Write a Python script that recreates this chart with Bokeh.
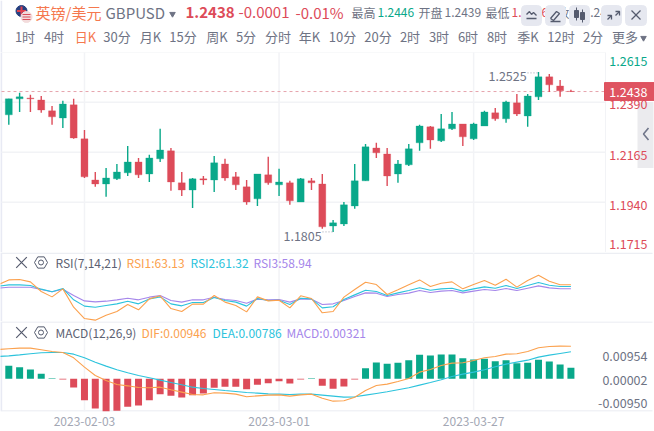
from bokeh.plotting import figure
from bokeh.layouts import column
from bokeh.models import Range1d, FixedTicker
from bokeh.core.properties import value
from bokeh.embed import file_html
from bokeh.resources import INLINE

opens = [1.2333,1.2405,1.2409,1.2400,1.2351,1.2319,1.2378,1.2225,1.2040,1.2022,1.2045,1.2072,1.2121,1.2067,1.2135,1.2171,1.2027,1.1995,1.2045,1.2040,
         1.2112,1.2054,1.2009,1.1955,1.2063,1.2018,1.2027,1.1941,1.2036,1.2022,1.1833,1.1842,1.1923,1.2036,1.2184,1.2157,1.2067,1.2108,1.2207,1.2279,
         1.2216,1.2270,1.2292,1.2225,1.2283,1.2342,1.2315,1.2387,1.2328,1.2414,1.2504,1.2463,1.2439]
highs = [1.2405,1.2432,1.2423,1.2418,1.2373,1.2396,1.2405,1.2265,1.2076,1.2094,1.2112,1.2193,1.2139,1.2153,1.2270,1.2184,1.2076,1.2049,1.2058,1.2148,
         1.2135,1.2076,1.2040,1.2067,1.2144,1.2090,1.2036,1.2049,1.2049,1.2067,1.1860,1.1941,1.2112,1.2202,1.2207,1.2184,1.2130,1.2202,1.2288,1.2283,
         1.2337,1.2346,1.2292,1.2297,1.2351,1.2364,1.2396,1.2427,1.2427,1.2526,1.2517,1.2490,1.2446]
lows = [1.2288,1.2346,1.2346,1.2342,1.2288,1.2274,1.2225,1.2049,1.2009,1.1964,1.2040,1.2058,1.2049,1.2031,1.2121,1.1991,1.1968,1.1914,1.2018,1.1986,
        1.2036,1.1995,1.1928,1.1923,1.2018,1.1968,1.1928,1.1941,1.1995,1.1820,1.1806,1.1833,1.1910,1.2036,1.2139,1.2013,1.2027,1.2103,1.2171,1.2180,
        1.2211,1.2265,1.2193,1.2220,1.2283,1.2306,1.2297,1.2328,1.2279,1.2400,1.2436,1.2414,1.2436]
closes = [1.2405,1.2414,1.2405,1.2355,1.2324,1.2382,1.2229,1.2054,1.2022,1.2049,1.2076,1.2121,1.2063,1.2139,1.2175,1.2031,1.1995,1.2045,1.2040,1.2117,
          1.2049,1.2018,1.1941,1.2067,1.2027,1.2031,1.1946,1.2045,1.2027,1.1829,1.1847,1.1928,1.2036,1.2189,1.2162,1.2058,1.2112,1.2180,1.2283,1.2220,
          1.2270,1.2292,1.2234,1.2292,1.2346,1.2315,1.2391,1.2337,1.2418,1.2504,1.2468,1.2441,1.2438]

rsi1 = [63.1,68.3,68.7,66.2,56.1,50.5,58.9,39.7,27.8,26.1,31.3,35.2,42.5,36.9,48.4,51.6,38.3,35.2,42.9,42.9,51.9,45.0,41.4,34.8,50.5,46.3,47.0,39.0,
        51.6,48.8,33.8,35.2,50.2,58.2,65.9,63.4,53.0,57.9,63.1,68.3,61.3,64.8,66.2,58.9,63.4,67.6,62.7,69.0,60.7,67.6,73.2,66.9,63.13,63.13]
rsi2 = [61.7,63.1,63.1,62.4,58.6,55.8,59.3,47.4,40.8,39.7,41.5,43.2,46.0,43.2,48.4,50.5,43.2,41.1,44.6,44.6,49.8,46.7,45.0,40.8,48.8,46.7,47.0,42.5,
        49.1,48.4,39.0,40.1,47.7,52.6,57.5,56.1,51.9,54.7,57.2,60.0,57.5,58.9,59.6,56.5,58.9,61.0,59.6,62.4,59.3,62.4,65.5,62.7,61.32,61.32]
rsi3 = [59.6,60.6,60.6,60.6,58.2,55.8,58.5,51.9,46.3,45.3,46.0,47.4,49.1,47.4,50.2,51.9,46.7,45.0,47.4,47.4,50.2,47.7,46.7,43.9,48.1,47.4,47.7,45.0,
        48.4,48.1,42.5,43.2,46.7,50.9,54.7,54.4,50.9,53.0,54.4,57.2,55.1,56.5,57.2,54.7,56.5,58.2,57.2,59.3,57.2,59.6,62.0,59.9,58.94,58.94]
dif = [.00854,.00873,.00892,.00892,.00844,.00795,.00766,.00611,.00340,.00097,-.00049,-.00165,-.00204,-.00252,-.00262,-.00243,-.00320,-.00388,-.00456,-.00466,
       -.00407,-.00417,-.00446,-.00524,-.00495,-.00475,-.00466,-.00504,-.00466,-.00446,-.00563,-.00650,-.00640,-.00534,-.00340,-.00194,-.00155,-.00078,.00010,
       .00194,.00272,.00388,.00456,.00466,.00534,.00611,.00650,.00718,.00728,.00795,.00902,.00941,.00950,.00946]
dea = [.00650,.00669,.00698,.00728,.00757,.00766,.00766,.00718,.00611,.00485,.00369,.00262,.00175,.00097,.00029,-.00039,-.00107,-.00175,-.00243,-.00281,
       -.00310,-.00340,-.00369,-.00398,-.00417,-.00437,-.00446,-.00456,-.00446,-.00446,-.00475,-.00504,-.00534,-.00524,-.00475,-.00427,-.00378,-.00320,-.00262,
       -.00184,-.00107,-.00029,.00068,.00136,.00194,.00262,.00349,.00427,.00485,.00543,.00631,.00689,.00737,.00786]
hist = [.00378,.00340,.00272,.00146,.00020,-.00020,-.00252,-.00621,-.00863,-.00951,-.00931,-.00815,-.00776,-.00621,-.00446,-.00495,-.00543,-.00475,-.00427,-.00262,
        -.00233,-.00233,-.00301,-.00175,-.00126,-.00068,-.00136,-.00020,.00020,-.00204,-.00291,-.00223,-.00020,.00310,.00475,.00437,.00466,.00543,.00698,.00679,
        .00708,.00708,.00601,.00563,.00582,.00514,.00543,.00456,.00466,.00553,.00504,.00417,.00321]

date_ticks = {7: "2023-02-03", 25: "2023-03-01", 43: "2023-03-27"}
price_ticks = [1.2615, 1.2390, 1.2165, 1.1940, 1.1715]
price_tick_labels = ["1.2615", "1.2390", "1.2165", "1.1940", "1.1715"]
macd_tick_labels = ["0.00954", "0.00002", "-0.00950"]
last_price = 1.2438
high_label, low_label = "1.2525", "1.1805"
tabs = ["1时","4时","日K","30分","月K","15分","周K","5分","分时","年K","10分","20分","2时","3时","6时","8时","季K","12时","2分","更多"]
tab_px = [24.5,53.5,85,116.5,150,182.5,216.5,245.5,277.5,309,342,377.5,409.5,438.5,467.5,496.5,527.5,560.5,592.5,624.5]

FONT = value("Noto Sans CJK SC")
RED, GREEN = "#dd4b59", "#09a88a"
ORANGE, CYAN, PURPLE = "#fba14e", "#2cc3dc", "#a586ea"
GREY, GRID = "#6e7384", "#f2f3f6"
W = 654

def fx(px):
    return (px - 8.3) / 10.81

X_RANGE = (fx(0), fx(W))
xs = list(range(len(closes)))
xs_line = list(range(-1, len(closes)))

def make(height, y0, y1, **kw):
    return figure(width=W, height=height, x_range=Range1d(*X_RANGE), y_range=Range1d(y0, y1),
                  output_backend="svg", toolbar_location=None, min_border=0, outline_line_color=None,
                  background_fill_color="white", border_fill_color="white", margin=(0, 0, 0, 0), **kw)

def txt(p, px, y, s, color, size=12, align="left", style="normal"):
    p.text([fx(px)], [y], text=[s], text_color=color, text_font=FONT, text_font_size=f"{size}px",
           text_align=align, text_baseline="middle", text_font_style=style)

def left_rule(p, y0, y1):
    p.segment([fx(0.7)], [y0], [fx(0.7)], [y1], line_color="#e8eaf4", line_width=2)

# ---------- header (pixel coordinates: interface chrome only)
hd = make(52, 52, 0, x_axis_location=None, y_axis_location=None)
hd.grid.visible = False
left_rule(hd, 0, 52)
hd.scatter([fx(21)], [10.5], size=11, color="#27407f")
hd.segment([fx(16.5), fx(21)], [10.5, 6], [fx(25.5), fx(21)], [10.5, 15], line_color="#e0414f", line_width=2)
hd.scatter([fx(26)], [16.5], size=11, color="#f3dcdc")
hd.segment([fx(22)] * 3, [14, 16.5, 19], [fx(30)] * 3, [14, 16.5, 19], line_color="#d9505c", line_width=1.2)
txt(hd, 35, 12, "英镑/美元", "#f5784e", 15)
txt(hd, 105, 12, "GBPUSD", GREY, 15)
hd.scatter([fx(172)], [13.5], marker="inverted_triangle", size=5.5, color=GREY)
txt(hd, 185, 12, "1.2438", RED, 15, style="bold")
txt(hd, 238, 12, "-0.0001", RED, 15)
txt(hd, 295, 12, "-0.01%", RED, 15)
for px, s, c in [(351, "最高", GREY), (377, "1.2446", GREEN), (418, "开盘", GREY), (444, "1.2439", GREY),
                 (485, "最低", GREY), (511, "1.2436", RED), (557, "收盘", GREY), (583, "1.2438", GREY)]:
    txt(hd, px, 12, s, c, 12)
for a, b in [(521, 541), (545, 565), (569, 589), (601, 621), (625, 646)]:
    hd.quad(left=[fx(a)], right=[fx(b)], top=[5], bottom=[25], color="#e6e8f0", border_radius=4)
icon = [
    ([526,529,531,533,536], [14,11,14,12,15]), ([526,536], [18,18]),
    ([550,556,559,553,550], [18,11,13,20,18]), ([550,560], [21,21]),
    ([607,611], [19,15]), ([611,611,607], [19,15,15]), ([615,619], [15,11]), ([615,619,619], [11,11,15]),
    ([631,640], [10,19]), ([631,640], [19,10]),
]
hd.multi_line([[fx(v) for v in a] for a, _ in icon], [b for _, b in icon], line_color="#555b6e", line_width=1.3)
hd.quad(left=[fx(574), fx(580)], right=[fx(578), fx(584)], top=[10, 12], bottom=[17, 19], color="#555b6e")
hd.segment([fx(576), fx(582)], [7, 9], [fx(576), fx(582)], [20, 22], line_color="#555b6e")
for s, px in zip(tabs, tab_px):
    txt(hd, px, 36, s, "#f5784e" if s == "日K" else GREY, 13, "center")
hd.scatter([fx(643)], [37.5], marker="inverted_triangle", size=5.5, color=GREY)

# ---------- candles
price_per_px = (price_ticks[0] - price_ticks[1]) / 50
main = make(200, price_ticks[-1] - 0.3 * price_per_px, price_ticks[0] - 0.3 * price_per_px,
            x_axis_location=None, y_axis_location=None)
main.grid.visible = False
def my(px):
    return price_ticks[1] + (102.3 - px) * price_per_px
left_rule(main, my(252), my(52))
main.segment([fx(1)] * 4, price_ticks[:4], [fx(605)] * 4, price_ticks[:4], line_color=GRID, line_width=1.5)
main.segment([fx(605)], [my(52)], [fx(605)], [my(252)], line_color=GRID)
main.segment(list(date_ticks), [my(52)] * 3, list(date_ticks), [my(252)] * 3, line_color=GRID, line_width=1.5)
main.segment([fx(1)], [last_price], [fx(604)], [last_price], line_color="#e6a4ac", line_dash="3 3")

colors = [GREEN if c >= o else RED for o, c in zip(opens, closes)]
main.segment(xs, highs, xs, lows, line_color=colors, line_width=1.4)
main.vbar(x=xs, top=[max(a, b) for a, b in zip(opens, closes)], bottom=[min(a, b) for a, b in zip(opens, closes)],
          width=7 / 10.81, fill_color=colors, line_color=colors, line_width=0.3)

txt(main, 488, my(76), high_label, GREY, 12.5)
main.segment([fx(527)], [my(73)], [fx(537)], [my(73)], line_color="#a0a4b0", line_dash="1 2")
txt(main, 283, my(236), low_label, GREY, 12.5)
main.segment([fx(322)], [my(232)], [fx(332)], [my(232)], line_color="#a0a4b0", line_dash="1 2")

main.quad(left=[fx(637)], right=[fx(653)], top=[my(102)], bottom=[my(168)], color="#e4e4e8", alpha=0.75, line_alpha=0)
main.multi_line([[fx(648), fx(643), fx(648)]], [[my(128), my(134), my(140)]], line_color="#70768a", line_width=1.6)
for s, py, c in zip(price_tick_labels, [61, 104.5, 154.7, 205.3, 244], [GREEN, RED, RED, RED, RED]):
    txt(main, 647, my(py), s, c, 12.5, "right")
main.quad(left=[fx(604)], right=[fx(654)], top=[my(82.7)], bottom=[my(100.5)], color=RED, alpha=0.95)
txt(main, 647, my(92), f"{last_price:.4f}", "white", 12.5, "right")

# ---------- RSI
rsi = make(69, 24.7, 97.0, x_axis_location=None, y_axis_location=None)
rsi.grid.visible = False
def ry(px):
    return 97.0 - (px - 252) * (97.0 - 24.7) / 69
left_rule(rsi, ry(321), ry(252))
rsi.segment([fx(1)], [ry(252.8)], [fx(652)], [ry(252.8)], line_color="#eceef3", line_width=1.5)
rsi.segment(list(date_ticks), [ry(252)] * 3, list(date_ticks), [ry(321)] * 3, line_color=GRID, line_width=1.5)
rsi.line(xs_line, rsi3, line_color=PURPLE, line_width=1.1)
rsi.line(xs_line, rsi2, line_color=CYAN, line_width=1.1)
rsi.line(xs_line, rsi1, line_color=ORANGE, line_width=1.1)
rsi.scatter([fx(21)], [ry(262)], marker="x", size=15, line_color="#555b6e", line_width=1.2)
rsi.scatter([fx(40.5)], [ry(262)], marker="hex", size=13, fill_color=None, line_color="#555b6e", line_width=1)
rsi.scatter([fx(40.5)], [ry(262)], marker="circle", size=5, fill_color=None, line_color="#555b6e", line_width=1)
txt(rsi, 55, ry(262), "RSI(7,14,21)", "#5c6172", 12)
txt(rsi, 126, ry(262), "RSI1:63.13", ORANGE, 12)
txt(rsi, 190, ry(262), "RSI2:61.32", CYAN, 12)
txt(rsi, 253, ry(262), "RSI3:58.94", PURPLE, 12)

# ---------- MACD
macd_top, macd_bottom = 0.01668, -0.00951
macd = make(110, macd_bottom, macd_top, x_axis_location="below", y_axis_location=None)
macd.grid.visible = False
macd.min_border_bottom = 20
macd.frame_height = 90
macd.height = 110
def dy(px):
    return macd_top - (px - 321) * (macd_top - macd_bottom) / 90
ax = macd.xaxis[0]
ax.ticker = FixedTicker(ticks=list(date_ticks))
ax.major_label_overrides = date_ticks
ax.major_label_text_color = "#a3a7b4"
ax.major_label_text_font = "Noto Sans CJK SC"
ax.major_label_text_font_size = "12px"
ax.major_label_standoff = -1
ax.axis_line_color = None
ax.major_tick_line_color = None
ax.minor_tick_line_color = None
left_rule(macd, dy(411), dy(321))
macd.segment([fx(1), fx(1)], [dy(321.5), dy(410.6)], [fx(652), fx(652)], [dy(321.5), dy(410.6)], line_color="#eceef3", line_width=1.5)
macd.segment(list(date_ticks), [dy(321)] * 3, list(date_ticks), [dy(411)] * 3, line_color=GRID, line_width=1.5)
macd.vbar(x=xs, top=[max(v, 0) for v in hist], bottom=[min(v, 0) for v in hist], width=7 / 10.81,
          fill_color=[GREEN if v >= 0 else RED for v in hist], line_color=None)
macd.line(xs_line, dea, line_color=CYAN, line_width=1.1)
macd.line(xs_line, dif, line_color=ORANGE, line_width=1.1)
macd.scatter([fx(21)], [dy(332)], marker="x", size=15, line_color="#555b6e", line_width=1.2)
macd.scatter([fx(40.5)], [dy(332)], marker="hex", size=13, fill_color=None, line_color="#555b6e", line_width=1)
macd.scatter([fx(40.5)], [dy(332)], marker="circle", size=5, fill_color=None, line_color="#555b6e", line_width=1)
txt(macd, 55, dy(332), "MACD(12,26,9)", "#5c6172", 12)
txt(macd, 141, dy(332), "DIF:0.00946", ORANGE, 12)
txt(macd, 212, dy(332), "DEA:0.00786", CYAN, 12)
txt(macd, 286, dy(332), "MACD:0.00321", PURPLE, 12)
for s, py in zip(macd_tick_labels, [355.5, 379, 402.7]):
    txt(macd, 647, dy(py), s, GREY, 12.5, "right")

page = column(hd, main, rsi, macd, spacing=0)
open("out.html", "w").write(file_html(page, INLINE))
